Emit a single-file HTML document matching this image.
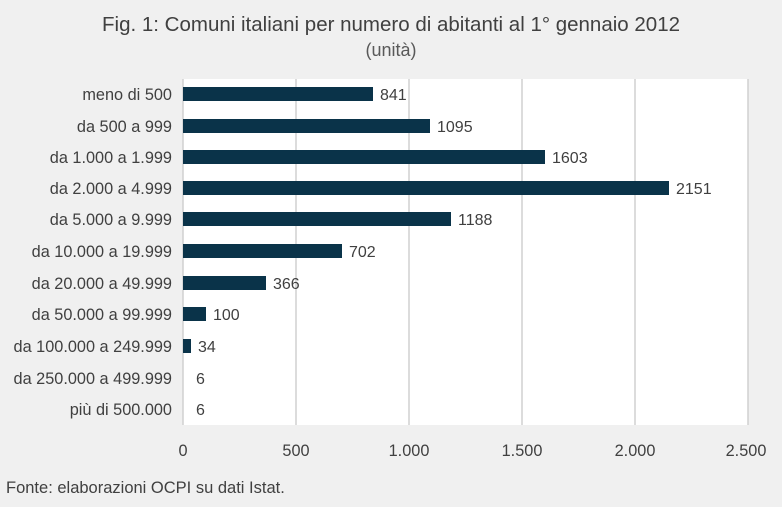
<!DOCTYPE html><html><head><meta charset="utf-8"><style>
body{margin:0;width:782px;height:502px;background:#f0f0f0;font-family:"Liberation Sans",sans-serif;overflow:hidden}
</style></head><body>
<svg width="782" height="502" xmlns="http://www.w3.org/2000/svg" font-family="Liberation Sans, sans-serif">
<rect width="782" height="502" fill="#f0f0f0"/>
<text x="391" y="31" font-size="20.5" text-anchor="middle" fill="#404040">Fig. 1: Comuni italiani per numero di abitanti al 1° gennaio 2012</text>
<text x="391" y="56" font-size="18" text-anchor="middle" fill="#595959">(unità)</text>
<rect x="183" y="79" width="565" height="346" fill="#fff"/>
<g stroke="#d0d0d0" stroke-width="1.5">
<line x1="296" y1="79" x2="296" y2="425"/><line x1="409" y1="79" x2="409" y2="425"/>
<line x1="522" y1="79" x2="522" y2="425"/><line x1="635" y1="79" x2="635" y2="425"/>
<line x1="748" y1="79" x2="748" y2="425"/><line x1="183" y1="79" x2="183" y2="425"/>
</g>
<g fill="#0a3349">
<rect x="183" y="87" width="190" height="14"/>
<rect x="183" y="119" width="247" height="14"/>
<rect x="183" y="150" width="362" height="14"/>
<rect x="183" y="181" width="486" height="14"/>
<rect x="183" y="212" width="268" height="14"/>
<rect x="183" y="244" width="159" height="14"/>
<rect x="183" y="276" width="83" height="14"/>
<rect x="183" y="307" width="23" height="14"/>
<rect x="183" y="339" width="8" height="14"/>
</g>
<g font-size="16" fill="#404040">
<text x="380" y="100">841</text><text x="437" y="132">1095</text><text x="552" y="163">1603</text>
<text x="676" y="194">2151</text><text x="458" y="225">1188</text><text x="349" y="257">702</text>
<text x="273" y="289">366</text><text x="213" y="320">100</text><text x="198" y="352">34</text>
<text x="196" y="384">6</text><text x="196" y="415">6</text>
</g>
<g font-size="16.3" fill="#404040" text-anchor="end">
<text x="172" y="100">meno di 500</text><text x="172" y="132">da 500 a 999</text>
<text x="172" y="163">da 1.000 a 1.999</text><text x="172" y="194">da 2.000 a 4.999</text>
<text x="172" y="225">da 5.000 a 9.999</text><text x="172" y="257">da 10.000 a 19.999</text>
<text x="172" y="289">da 20.000 a 49.999</text><text x="172" y="320">da 50.000 a 99.999</text>
<text x="172" y="352">da 100.000 a 249.999</text><text x="172" y="384">da 250.000 a 499.999</text>
<text x="172" y="415">più di 500.000</text>
</g>
<g font-size="16.3" fill="#404040" text-anchor="middle">
<text x="183" y="456">0</text><text x="296" y="456">500</text><text x="409" y="456">1.000</text>
<text x="522" y="456">1.500</text><text x="635" y="456">2.000</text><text x="746" y="456">2.500</text>
</g>
<text x="6" y="493" font-size="16.5" fill="#404040">Fonte: elaborazioni OCPI su dati Istat.</text>
</svg>
</body></html>
